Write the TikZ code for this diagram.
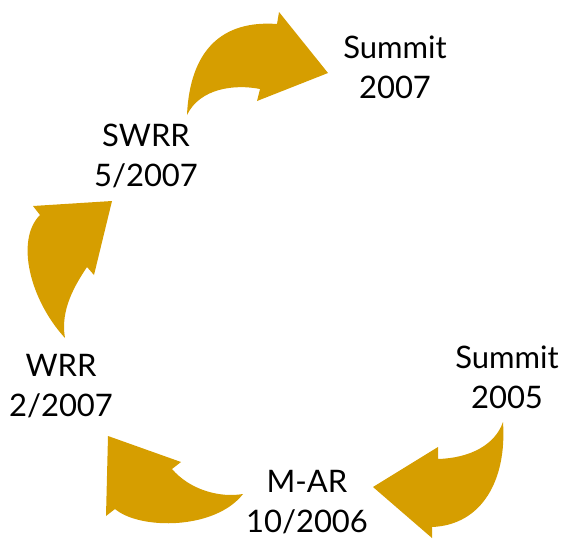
\documentclass[tikz,border=0pt]{standalone}
\usepackage{fontspec}
\setmainfont{Lato}
\definecolor{arrowgold}{RGB}{214,158,0}
\begin{document}
\begin{tikzpicture}[x=1pt,y=-1pt,
  blockarrow/.style={fill=arrowgold,draw=none},
  lbl/.style={align=center,inner sep=0pt,text=black,font=\fontsize{31}{40}\selectfont}]
\useasboundingbox (0,0) rectangle (566,539);
% arrow SWRR -> Summit 2007
\fill[blockarrow] (187,115) .. controls (190,50) and (222,20) .. (277,24)
  -- (279,12) -- (328,73) -- (257,101) -- (260,89)
  .. controls (235,84) and (200,88) .. (187,115) -- cycle;
% arrow WRR -> SWRR
\fill[blockarrow] (65,338) .. controls (30,300) and (15,240) .. (40,215)
  -- (33,206) -- (112,201) -- (94,275) -- (87,267)
  .. controls (75,285) and (60,310) .. (65,338) -- cycle;
% arrow Summit 2005 -> M-AR
\fill[blockarrow] (503,422) .. controls (495,445) and (470,458) .. (438,459)
  -- (438,447) -- (373,487) -- (432,538) -- (432,527)
  .. controls (482,525) and (507,480) .. (503,422) -- cycle;
% arrow M-AR -> WRR
\fill[blockarrow] (243,494) .. controls (220,498) and (190,490) .. (172,469)
  -- (181,462) -- (108,436) -- (106,516) -- (115,509)
  .. controls (140,530) and (215,530) .. (243,494) -- cycle;
\node[lbl] (s07) at (395,67) {Summit\\2007};
\node[lbl] (swrr) at (146,156) {SWRR\\5/2007};
\node[lbl] (wrr) at (61,386) {WRR\\2/2007};
\node[lbl] (s05) at (507,377) {Summit\\2005};
\node[lbl] (mar) at (307,502) {M-AR\\10/2006};
\end{tikzpicture}
\end{document}
